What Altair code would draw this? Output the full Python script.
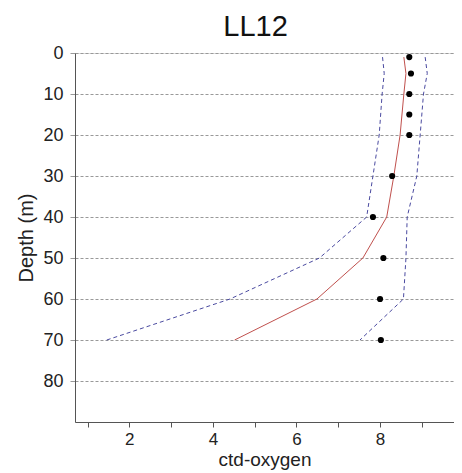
import altair as alt
import pandas as pd

# Profile depths (m) for model lines
line_depths = [1, 5, 10, 20, 30, 40, 50, 60, 70]
mean_oxygen = [8.57, 8.62, 8.57, 8.48, 8.33, 8.16, 7.59, 6.49, 4.52]
lower_oxygen = [8.06, 8.10, 8.05, 7.98, 7.83, 7.68, 6.55, 4.41, 1.46]
upper_oxygen = [9.08, 9.13, 9.04, 8.96, 8.88, 8.65, 8.62, 8.56, 7.52]

# Observations
obs_depths = [1, 5, 10, 15, 20, 30, 40, 50, 60, 70]
obs_oxygen = [8.70, 8.74, 8.70, 8.70, 8.70, 8.29, 7.83, 8.08, 8.00, 8.02]

x_ticks = [1, 2, 3, 4, 5, 6, 7, 8, 9]
y_ticks = [0, 10, 20, 30, 40, 50, 60, 70, 80]

FONT = "Liberation Sans"

lines = pd.DataFrame({
    "depth": line_depths * 3,
    "oxygen": mean_oxygen + lower_oxygen + upper_oxygen,
    "series": ["mean"] * len(line_depths) + ["lower"] * len(line_depths) + ["upper"] * len(line_depths),
})
obs = pd.DataFrame({"depth": obs_depths, "oxygen": obs_oxygen})

xscale = alt.Scale(domain=[0.7, 9.77], nice=False, zero=False)
yscale = alt.Scale(domain=[0, 90], reverse=True, nice=False, zero=False)

xaxis = alt.Axis(
    title="ctd-oxygen", values=x_ticks,
    labelExpr="datum.value % 2 == 0 ? datum.label : ''",
    grid=False, tickSize=5, tickColor="#555", domainColor="#555",
    labelFontSize=17, titleFontSize=19, labelColor="#222", titleColor="#222",
    labelFont=FONT, titleFont=FONT, titleFontWeight="normal",
    labelPadding=4, titlePadding=3,
)
yaxis = alt.Axis(
    title="Depth (m)", values=y_ticks,
    grid=True, gridDash=[3, 2], gridColor="#999", gridWidth=1,
    tickSize=5, tickColor="#999", domainColor="#555",
    labelFontSize=18, titleFontSize=20, labelColor="#222", titleColor="#222",
    labelFont=FONT, titleFont=FONT, titleFontWeight="normal",
    labelPadding=7, titlePadding=6,
)

base_x = alt.X("oxygen:Q", scale=xscale, axis=xaxis)
base_y = alt.Y("depth:Q", scale=yscale, axis=yaxis)

mean_line = alt.Chart(lines).transform_filter(alt.datum.series == "mean").mark_line(
    color="#c0504d", strokeWidth=1
).encode(x=base_x, y=base_y, order="depth:Q")

band_lines = alt.Chart(lines).transform_filter(alt.datum.series != "mean").mark_line(
    color="#4a4aa0", strokeWidth=1, strokeDash=[4, 3]
).encode(x=base_x, y=base_y, detail="series:N", order="depth:Q")

points = alt.Chart(obs).mark_circle(color="black", opacity=1, size=38).encode(
    x=base_x, y=base_y
)

chart = alt.layer(band_lines, mean_line, points).properties(
    width=379, height=369,
    title=alt.TitleParams("LL12", fontSize=29, font=FONT, fontWeight="normal", color="#111",
                          anchor="middle", offset=2, dx=-9),
    autosize=alt.AutoSizeParams(type="none"),
    padding={"left": 67, "top": 45, "right": 0, "bottom": 50},
).configure_view(stroke=None).configure(background="white")

chart.save("out.html", embed_options={"renderer": "svg", "actions": False})
